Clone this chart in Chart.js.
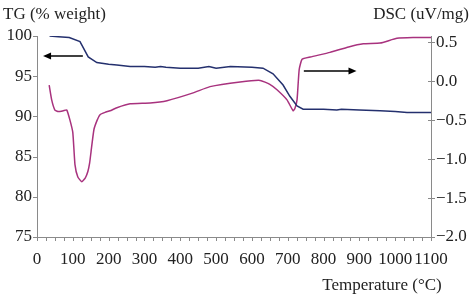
<!DOCTYPE html>
<html>
<head>
<meta charset="utf-8">
<script src="https://cdn.jsdelivr.net/npm/chart.js@4"></script>
<style>
  html, body { margin: 0; padding: 0; background: #fff; }
  #wrap { width: 472px; height: 296px; }
</style>
</head>
<body>
<div id="wrap"><canvas id="tgChart"></canvas></div>
<script>
// TG curve (left axis, % weight)
const tgTemp = [35, 60, 90, 120, 143, 167, 200, 223, 260, 300, 330, 345, 360, 400, 450, 480, 500, 540, 600, 631, 659, 687, 706, 726, 743, 800, 837, 850, 900, 958, 1000, 1033, 1100];
const tgValues = [100.0, 99.9, 99.8, 99.3, 97.4, 96.7, 96.5, 96.4, 96.2, 96.2, 96.1, 96.2, 96.1, 96.0, 96.0, 96.2, 96.0, 96.2, 96.1, 96.0, 95.3, 93.9, 92.5, 91.3, 90.9, 90.9, 90.8, 90.9, 90.8, 90.7, 90.6, 90.5, 90.5];

// DSC curve (right axis, uV/mg)
const dscTemp = [34, 41, 50, 60, 73, 83, 92, 100, 106, 114, 125, 135, 142, 147, 151, 159, 168, 176, 190, 204, 223, 260, 316, 363, 436, 483, 567, 623, 650, 670, 698, 715, 720, 726, 732, 740, 763, 818, 870, 911, 958, 1005, 1050, 1100];
const dscValues = [-0.05, -0.24, -0.37, -0.39, -0.38, -0.37, -0.50, -0.66, -1.07, -1.23, -1.29, -1.24, -1.16, -1.05, -0.90, -0.62, -0.50, -0.43, -0.40, -0.38, -0.34, -0.29, -0.28, -0.25, -0.15, -0.07, -0.01, 0.01, -0.04, -0.11, -0.24, -0.38, -0.35, -0.24, 0.15, 0.28, 0.31, 0.37, 0.44, 0.48, 0.49, 0.55, 0.56, 0.56];

const xTicks = [0, 100, 200, 300, 400, 500, 600, 700, 800, 900, 1000, 1100];
const tgTicks = [75, 80, 85, 90, 95, 100];
const dscTicks = [-2.0, -1.5, -1.0, -0.5, 0.0, 0.5];

const FONT = "'Liberation Serif', 'Times New Roman', serif";
const axisColor = '#8a8a8a';

function pts(xs, ys) {
    return xs.map((x, i) => ({ x: x, y: ys[i] }));
}

// axis lines, small ticks, arrows and the three titles
const decorPlugin = {
    id: 'decor',
    afterDraw(chart) {
        const ctx = chart.ctx;
        const a = chart.chartArea;
        const x = chart.scales.x, yl = chart.scales.y, yr = chart.scales.y2;
        ctx.save();
        ctx.strokeStyle = axisColor;
        ctx.lineWidth = 1;
        ctx.beginPath();
        ctx.moveTo(a.left + 0.5, a.top); ctx.lineTo(a.left + 0.5, a.bottom);
        ctx.moveTo(a.right + 0.5, a.top); ctx.lineTo(a.right + 0.5, a.bottom);
        ctx.moveTo(a.left, a.bottom + 0.5); ctx.lineTo(a.right, a.bottom + 0.5);
        // x minor ticks every 25
        for (let t = 0; t <= 1100; t += 25) {
            const px = Math.round(x.getPixelForValue(t)) + 0.5;
            ctx.moveTo(px, a.bottom); ctx.lineTo(px, a.bottom + 4);
        }
        tgTicks.forEach(v => {
            const py = Math.round(yl.getPixelForValue(v)) + 0.5;
            ctx.moveTo(a.left - 4, py); ctx.lineTo(a.left, py);
        });
        dscTicks.forEach(v => {
            const py = Math.round(yr.getPixelForValue(v)) + 0.5;
            ctx.moveTo(a.right - 3, py); ctx.lineTo(a.right + 4, py);
        });
        ctx.stroke();

        // arrows
        ctx.strokeStyle = '#000';
        ctx.fillStyle = '#000';
        ctx.lineWidth = 1.5;
        function arrow(x1, x2, py) {
            const dir = Math.sign(x2 - x1);
            ctx.beginPath();
            ctx.moveTo(x1, py); ctx.lineTo(x2 - dir * 6, py);
            ctx.stroke();
            ctx.beginPath();
            ctx.moveTo(x2, py);
            ctx.lineTo(x2 - dir * 8, py - 3.5);
            ctx.lineTo(x2 - dir * 8, py + 3.5);
            ctx.closePath();
            ctx.fill();
        }
        arrow(x.getPixelForValue(128), x.getPixelForValue(17), yl.getPixelForValue(97.5));
        arrow(x.getPixelForValue(745), x.getPixelForValue(892), yr.getPixelForValue(0.13));

        ctx.fillStyle = '#222';
        ctx.font = '17px ' + FONT;
        ctx.textBaseline = 'alphabetic';
        ctx.textAlign = 'left';
        ctx.fillText('TG (% weight)', 3, 19);
        ctx.textAlign = 'right';
        ctx.fillText('DSC (uV/mg)', 469, 19);
        ctx.textAlign = 'center';
        ctx.fillText('Temperature (\u00B0C)', 382, 290);
        ctx.restore();
    }
};

const ctx = document.getElementById('tgChart').getContext('2d');
const tgChart = new Chart(ctx, {
    type: 'line',
    data: {
        datasets: [
            {
                label: 'TG',
                data: pts(tgTemp, tgValues),
                borderColor: '#24306e',
                borderWidth: 1.5,
                pointRadius: 0,
                tension: 0,
                yAxisID: 'y'
            },
            {
                label: 'DSC',
                data: pts(dscTemp, dscValues),
                borderColor: '#a8327e',
                borderWidth: 1.5,
                pointRadius: 0,
                tension: 0.15,
                yAxisID: 'y2'
            }
        ]
    },
    options: {
        responsive: true,
        maintainAspectRatio: false,
        animation: false,
        layout: { padding: { top: 36, left: 0, right: 0, bottom: 0 } },
        plugins: {
            legend: { display: false },
            tooltip: { enabled: false }
        },
        scales: {
            x: {
                type: 'linear',
                min: 0,
                max: 1100,
                border: { display: false },
                grid: { display: false, drawTicks: false },
                afterBuildTicks: (s) => { s.ticks = xTicks.map(v => ({ value: v })); },
                afterFit: (s) => { s.height = 59; },
                ticks: {
                    autoSkip: false,
                    maxRotation: 0,
                    padding: 12,
                    color: '#222',
                    font: { family: FONT, size: 17 },
                    callback: (v) => String(v)
                }
            },
            y: {
                position: 'left',
                min: 75,
                max: 100,
                border: { display: false },
                grid: { display: false, drawTicks: false },
                afterBuildTicks: (s) => { s.ticks = tgTicks.map(v => ({ value: v })); },
                afterFit: (s) => { s.width = 37; },
                ticks: {
                    padding: 5,
                    color: '#222',
                    font: { family: FONT, size: 17 }
                }
            },
            y2: {
                position: 'right',
                min: -2.0,
                max: 0.58,
                border: { display: false },
                grid: { display: false, drawTicks: false },
                afterBuildTicks: (s) => { s.ticks = dscTicks.map(v => ({ value: v })); },
                afterFit: (s) => { s.width = 41; },
                ticks: {
                    padding: 5,
                    color: '#222',
                    font: { family: FONT, size: 17 },
                    callback: (v) => (v < 0 ? '\u2212' : '') + Math.abs(v).toFixed(1)
                }
            }
        }
    },
    plugins: [decorPlugin]
});
</script>
</body>
</html>
